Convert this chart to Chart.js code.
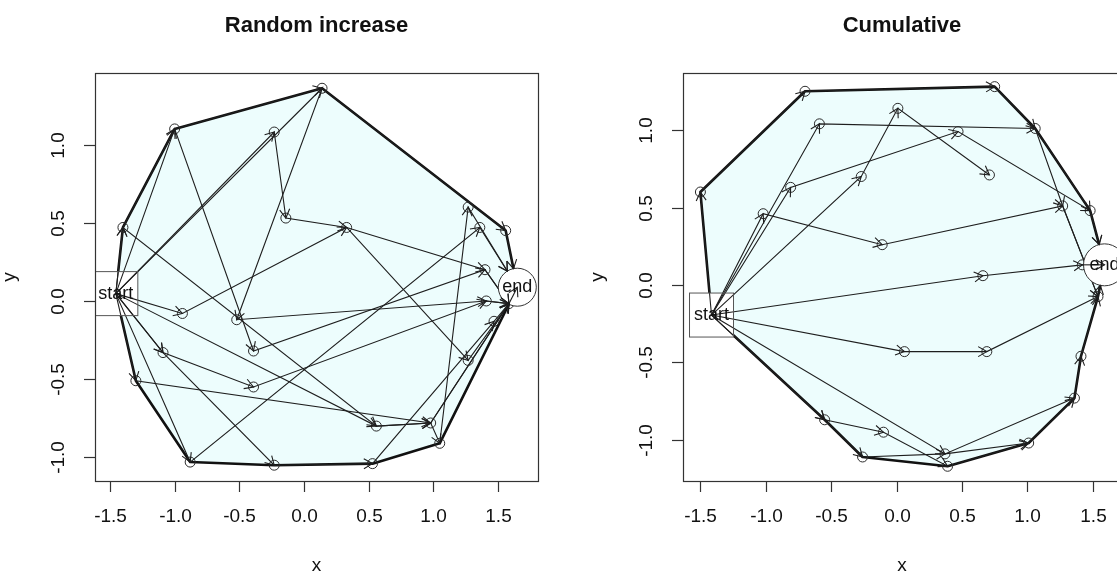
<!DOCTYPE html>
<html>
<head>
<meta charset="utf-8">
<script src="https://cdn.jsdelivr.net/npm/chart.js@4.4.0/dist/chart.umd.min.js"></script>
<style>
  html, body { margin: 0; padding: 0; background: #fff; overflow: hidden; }
  #wrap { position: relative; width: 1117px; height: 573px; overflow: hidden; }
  #chartLeft { position: absolute; left: 0; top: 0; }
  #chartRight { position: absolute; left: 590px; top: 0; }
</style>
</head>
<body>
<div id="wrap">
  <canvas id="chartLeft" width="590" height="573"></canvas>
  <canvas id="chartRight" width="540" height="573"></canvas>
</div>
<script>
/* =============================== */
/* Data */
/* =============================== */
const xTicks = [-1.5, -1.0, -0.5, 0.0, 0.5, 1.0, 1.5];
const yTicks = [-1.0, -0.5, 0.0, 0.5, 1.0];

// Random increase: 0 = start, 1..25 waypoints, 26 = merge point, 27 = end
const randX = [-1.455, -1.00, -0.23, -0.14, -1.40, 0.14, 1.27, 1.36, 1.56, 0.33, 1.40, 1.41, 1.47, 1.27,
  0.98, 1.05, 0.56, 0.53, -0.94, -0.52, -0.39, -1.09, -0.39, -1.30, -0.88, -0.23, 1.585, 1.65];
const randY = [0.047, 1.10, 1.08, 0.53, 0.47, 1.36, 0.60, 0.47, 0.45, 0.47, 0.20, 0.00, -0.13, -0.38,
  -0.78, -0.91, -0.80, -1.04, -0.08, -0.12, -0.32, -0.33, -0.55, -0.51, -1.03, -1.05, -0.017, 0.088];
const randPaths = [
  [0, 4, 1, 5, 8, 27],
  [0, 1, 20, 10, 26],
  [0, 2, 3, 9, 10, 26],
  [0, 18, 9, 13, 26],
  [0, 21, 22, 11, 26],
  [0, 23, 14, 15, 6, 27],
  [0, 4, 16, 14, 26],
  [0, 5, 19, 11, 26],
  [0, 24, 7, 27],
  [0, 21, 25, 17, 12, 26],
  [0, 16, 14, 26],
  [26, 27]
];
const randHull = [0, 4, 1, 5, 8, 27, 15, 17, 25, 24, 23];

// Cumulative: 0 = start, 1..26 waypoints, 27 = merge point, 28 = end
const cumX = [-1.415, -0.70, -1.50, -0.59, 0.01, -0.27, -0.81, -1.02, -0.11, 0.75, 0.47, 1.06, 0.71, 1.27,
  1.48, 1.42, 0.66, 0.06, -0.55, -0.10, -0.26, 0.69, 1.41, 1.36, 1.01, 0.37, 0.39, 1.54, 1.59];
const cumY = [-0.194, 1.25, 0.60, 1.04, 1.14, 0.70, 0.63, 0.46, 0.26, 1.28, 0.99, 1.01, 0.71, 0.51,
  0.48, 0.13, 0.06, -0.43, -0.87, -0.95, -1.11, -0.43, -0.46, -0.73, -1.02, -1.09, -1.17, -0.075, 0.13];
const cumPaths = [
  [0, 2, 1, 9, 11, 14, 28],
  [0, 7, 8, 13, 27],
  [0, 6, 10, 14, 28],
  [0, 3, 11, 13, 27],
  [0, 5, 4, 12],
  [0, 16, 15, 28],
  [0, 17, 21, 27],
  [0, 18, 19, 26, 24, 23, 22, 27],
  [0, 18, 20, 25, 24],
  [0, 25, 23],
  [27, 28]
];
const cumHull = [0, 2, 1, 9, 11, 14, 28, 27, 22, 23, 24, 26, 20, 18];

const FONT = '"Liberation Sans", Arial, Helvetica, sans-serif';

/* =============================== */
/* Datasets */
/* =============================== */
function buildDatasets(xs, ys, paths, hull) {
  const pt = i => ({ x: xs[i], y: ys[i] });
  const startIdx = 0, endIdx = xs.length - 1;
  const sets = [];

  const marks = [];
  for (let i = 1; i < endIdx; i++) marks.push(pt(i));
  sets.push({
    data: marks, showLine: false, pointRadius: 5, pointBorderWidth: 1,
    pointBorderColor: '#2a2a2a', pointBackgroundColor: 'rgba(0,0,0,0)'
  });

  paths.forEach(p => sets.push({
    data: p.map(pt), arrowed: true, showLine: true, fill: false,
    borderColor: '#1e1e1e', borderWidth: 1.1, pointRadius: 0
  }));

  sets.push({ data: [pt(startIdx), pt(endIdx)], anchors: true, showLine: false, pointRadius: 0 });

  const ring = hull.concat([hull[0]]);
  sets.push({
    data: ring.map(pt), isHull: true, showLine: true, fill: 'shape',
    backgroundColor: '#edfdfd', borderColor: '#111', borderWidth: 2.6,
    borderJoinStyle: 'round', pointRadius: 0
  });
  return sets;
}

function arrowHead(ctx, ang, tx, ty, len) {
  ctx.beginPath();
  ctx.moveTo(tx - len * Math.cos(ang - 0.5236), ty - len * Math.sin(ang - 0.5236));
  ctx.lineTo(tx, ty);
  ctx.lineTo(tx - len * Math.cos(ang + 0.5236), ty - len * Math.sin(ang + 0.5236));
  ctx.stroke();
}

function anchorPoints(chart) {
  const idx = chart.data.datasets.findIndex(d => d.anchors);
  const els = chart.getDatasetMeta(idx).data;
  return { s: els[0], e: els[1] };
}

/* =============================== */
/* R-like frame, arrows, labels */
/* =============================== */
const rPlot = {
  id: 'rplot',
  afterDatasetDraw(chart, args) {
    if (!chart.data.datasets[args.index].isHull) return;
    const { ctx, chartArea: a } = chart;
    const { s } = anchorPoints(chart);
    ctx.save();
    ctx.beginPath();
    ctx.rect(a.left, a.top, a.right - a.left, a.bottom - a.top);
    ctx.clip();
    ctx.fillStyle = '#fff';
    ctx.fillRect(s.x - 22, s.y - 22, 44, 44);
    ctx.restore();
  },
  afterDatasetsDraw(chart, args, opts) {
    const { ctx, chartArea: a } = chart;
    const { s, e } = anchorPoints(chart);
    const R = opts.endR;
    ctx.save();
    ctx.beginPath();
    ctx.rect(a.left, a.top, a.right - a.left, a.bottom - a.top);
    ctx.clip();

    // end circle covers the path ends
    ctx.beginPath();
    ctx.arc(e.x, e.y, R, 0, Math.PI * 2);
    ctx.fillStyle = '#fff';
    ctx.fill();
    ctx.lineWidth = 1;
    ctx.strokeStyle = '#333';
    ctx.stroke();

    ctx.strokeStyle = '#1e1e1e';
    ctx.lineWidth = 1.1;
    chart.data.datasets.forEach((ds, i) => {
      if (!ds.arrowed) return;
      const pts = chart.getDatasetMeta(i).data;
      for (let k = 1; k < pts.length; k++) {
        const p0 = pts[k - 1], p1 = pts[k];
        const ang = Math.atan2(p1.y - p0.y, p1.x - p0.x);
        const toEnd = Math.abs(p1.x - e.x) < 0.5 && Math.abs(p1.y - e.y) < 0.5;
        let tx = p1.x, ty = p1.y;
        if (toEnd) {
          const d = Math.hypot(p1.x - p0.x, p1.y - p0.y);
          if (d > R + 4) {
            tx = p1.x - R * Math.cos(ang);
            ty = p1.y - R * Math.sin(ang);
          } else {
            ctx.beginPath();
            ctx.moveTo(p0.x, p0.y);
            ctx.lineTo(p1.x, p1.y);
            ctx.stroke();
          }
        }
        arrowHead(ctx, ang, tx, ty, 10);
      }
    });

    ctx.lineWidth = 1;
    ctx.strokeStyle = '#555';
    ctx.strokeRect(s.x - 22, s.y - 22, 44, 44);

    ctx.fillStyle = '#111';
    ctx.font = '18px ' + FONT;
    ctx.textAlign = 'center';
    ctx.textBaseline = 'middle';
    ctx.fillText('start', s.x, s.y);
    ctx.fillText('end', e.x, e.y);
    ctx.restore();
  },
  afterDraw(chart, args, opts) {
    const { ctx, chartArea: a, scales: { x, y } } = chart;
    ctx.save();
    ctx.strokeStyle = '#333';
    ctx.lineWidth = 1.2;
    ctx.strokeRect(a.left + 0.5, a.top + 0.5, a.right - a.left, a.bottom - a.top);

    ctx.fillStyle = '#111';
    ctx.font = '19px ' + FONT;
    ctx.textAlign = 'center';
    ctx.textBaseline = 'middle';

    xTicks.forEach(v => {
      const px = Math.round(x.getPixelForValue(v)) + 0.5;
      ctx.beginPath();
      ctx.moveTo(px, a.bottom);
      ctx.lineTo(px, a.bottom + 11);
      ctx.stroke();
      ctx.fillText(v.toFixed(1), px, a.bottom + 36);
    });
    yTicks.forEach(v => {
      const py = Math.round(y.getPixelForValue(v)) + 0.5;
      ctx.beginPath();
      ctx.moveTo(a.left - 11, py);
      ctx.lineTo(a.left, py);
      ctx.stroke();
      ctx.save();
      ctx.translate(a.left - 36, py);
      ctx.rotate(-Math.PI / 2);
      ctx.fillText(v.toFixed(1), 0, 0);
      ctx.restore();
    });

    const cx = (a.left + a.right) / 2, cy = (a.top + a.bottom) / 2;
    ctx.fillText('x', cx, a.bottom + 85);
    ctx.save();
    ctx.translate(a.left - 85, cy);
    ctx.rotate(-Math.PI / 2);
    ctx.fillText('y', 0, 0);
    ctx.restore();

    ctx.font = 'bold 22px ' + FONT;
    ctx.fillText(opts.title, cx, 26);
    ctx.restore();
  }
};

/* =============================== */
/* Charts */
/* =============================== */
function makeChart(id, xs, ys, paths, hull, xRange, yRange, pad, title, endR) {
  return new Chart(document.getElementById(id), {
    type: 'scatter',
    data: { datasets: buildDatasets(xs, ys, paths, hull) },
    options: {
      responsive: false,
      animation: false,
      events: [],
      layout: { padding: pad },
      scales: {
        x: { type: 'linear', display: false, min: xRange[0], max: xRange[1] },
        y: { type: 'linear', display: false, min: yRange[0], max: yRange[1] }
      },
      plugins: {
        legend: { display: false },
        tooltip: { enabled: false },
        rplot: { title: title, endR: endR }
      }
    },
    plugins: [rPlot]
  });
}

makeChart('chartLeft', randX, randY, randPaths, randHull,
  [-1.616, 1.81], [-1.151, 1.4575],
  { left: 95, top: 73, right: 52, bottom: 92 }, 'Random increase', 19);

makeChart('chartRight', cumX, cumY, cumPaths, cumHull,
  [-1.633, 1.716], [-1.265, 1.368],
  { left: 93, top: 73, right: 9, bottom: 92 }, 'Cumulative', 21);
</script>
</body>
</html>
